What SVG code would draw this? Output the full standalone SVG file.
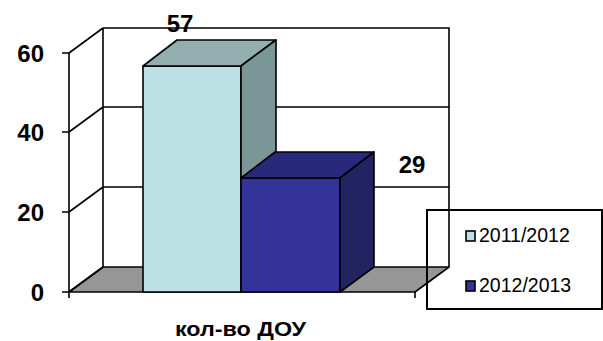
<svg xmlns="http://www.w3.org/2000/svg" width="603" height="341" viewBox="0 0 603 341">
<style>
.ln{stroke:#000;stroke-width:1.6;fill:none}
.f{stroke:#000;stroke-width:1.6;stroke-linejoin:round}
.ax{font-family:"Liberation Sans",Arial,sans-serif;font-weight:bold;font-size:24px;fill:#000}
.lg{font-family:"Liberation Sans",Arial,sans-serif;font-size:19.5px;fill:#000}
</style>
<rect width="603" height="341" fill="#fff"/>
<g id="walls">
<polygon points="69,292 415,292 449,267 103,267" fill="#969696" class="f"/>
<path class="ln" d="M103,28 H449 V267 M103,107 H449 M103,187 H449 M103,28 V267 M69,53 L103,28 M69,132 L103,107 M69,212 L103,187 M69,292 L103,267"/>
<path class="ln" d="M69,53 V298 M62,53 H69 M62,132 H69 M62,212 H69 M62,292 H69 M415,292 V298"/>
</g>
<g id="bar1">
<polygon points="143,66 241,66 241,292 143,292" fill="#BCE0E4" class="f"/>
<polygon points="143,66 177,40 276,40 241,66" fill="#92AEAF" class="f"/>
<polygon points="241,66 276,40 276,267 241,292" fill="#7B9697" class="f"/>
</g>
<g id="bar2">
<polygon points="241,178 340,178 340,292 241,292" fill="#333399" class="f"/>
<polygon points="241,178 275,152 374,152 340,178" fill="#29297C" class="f"/>
<polygon points="340,178 374,152 374,267 340,292" fill="#232362" class="f"/>
</g>
<g id="labels">
<text class="ax" x="180" y="32" text-anchor="middle">57</text>
<text class="ax" x="412" y="173" text-anchor="middle">29</text>
<text class="ax" x="44" y="62" text-anchor="end">60</text>
<text class="ax" x="44" y="141" text-anchor="end">40</text>
<text class="ax" x="44" y="221" text-anchor="end">20</text>
<text class="ax" x="44" y="301" text-anchor="end">0</text>
<text x="240.5" y="336" text-anchor="middle" font-family="Liberation Sans,Arial,sans-serif" font-weight="bold" font-size="21" textLength="131" lengthAdjust="spacingAndGlyphs">кол-во ДОУ</text>
</g>
<g id="legend">
<rect x="427" y="210" width="175" height="99" fill="none" stroke="#000" stroke-width="2"/>
<rect x="466" y="231" width="9" height="10" fill="#BCE0E4" stroke="#000" stroke-width="1.6"/>
<text class="lg" x="479" y="242">2011/2012</text>
<rect x="466" y="281" width="9" height="10" fill="#333399" stroke="#000" stroke-width="1.6"/>
<text class="lg" x="479" y="292">2012/2013</text>
</g>
</svg>
